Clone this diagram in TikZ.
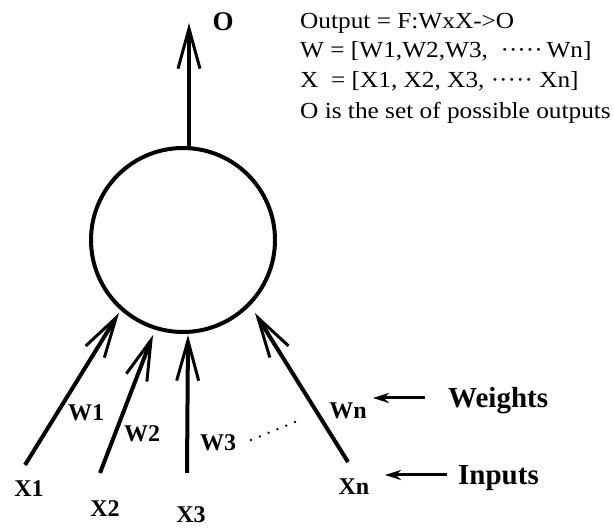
\documentclass[tikz,border=0pt]{standalone}
\usepackage{fontspec}
\setmainfont{Liberation Serif}
\newfontfamily\txtfont[FakeStretch=1.1]{Liberation Serif}
\usetikzlibrary{arrows.meta}
\begin{document}
\begin{tikzpicture}[x=1pt,y=-1pt,
  shaft/.style={line width=4pt},
  barb/.style={-{Straight Barb[length=40pt,width=22pt,line width=3pt]}},
  lbl/.style={font=\fontsize{24}{28}\selectfont\bfseries, inner sep=0pt},
  big/.style={font=\fontsize{29}{34}\selectfont\bfseries, inner sep=0pt, anchor=base west},
  txt/.style={font=\txtfont\fontsize{23}{28}\selectfont, inner sep=0pt, anchor=base west},
  pointer/.style={line width=3pt, -{Stealth[length=16pt,width=10pt]}}]
\useasboundingbox (0,0) rectangle (614,529);
% neuron
\node[circle, draw, line width=4pt, minimum size=184pt, inner sep=0pt] (neuron) at (183,240) {};
% output arrow
\coordinate (otop) at (189,148);
\coordinate (otip) at (189,23);
\draw[shaft, barb] (otop) -- (otip);
\node[font=\fontsize{27}{32}\selectfont\bfseries, inner sep=0pt] (O) at (223,22) {O};
% inputs
\coordinate (x1t) at (25,465);  \coordinate (x1h) at (119,313);
\coordinate (x2t) at (100,473); \coordinate (x2h) at (153,335);
\coordinate (x3t) at (187,473); \coordinate (x3h) at (188,335);
\coordinate (xnt) at (348,462); \coordinate (xnh) at (255,313);
\draw[shaft, barb] (x1t) -- (x1h);
\draw[shaft, barb] (x2t) -- (x2h);
\draw[shaft, barb] (x3t) -- (x3h);
\draw[shaft, barb] (xnt) -- (xnh);
\node[lbl] (X1) at (29,489) {X1};
\node[lbl] (X2) at (105,509) {X2};
\node[lbl] (X3) at (191,515) {X3};
\node[lbl] (Xn) at (354,487) {Xn};
\node[lbl] (W1) at (86,413) {W1};
\node[lbl] (W2) at (142,434) {W2};
\node[lbl] (W3) at (218,443) {W3};
\node[lbl] (Wn) at (348,411) {Wn};
\foreach \i in {0,...,5} \fill ({251+8.8*\i},{440-3.6*\i}) circle[radius=1.3pt];
% pointers
\coordinate (wt) at (425,398); \coordinate (wh) at (373,398);
\coordinate (it) at (447,475); \coordinate (ih) at (385,475);
\draw[pointer] (wt) -- (wh);
\draw[pointer] (it) -- (ih);
\node[big] (weights) at (448,408) {Weights};
\node[big] (inputs) at (458,485) {Inputs};
% definitions
\node[txt] (l1) at (300,29) {Output = F:WxX->O};
\node[txt] (l2) at (300,58) {W = [W1,W2,W3, \ ·····\,Wn]};
\node[txt] (l3) at (300,88) {X \ = [X1, X2, X3, ·····\ Xn]};
\node[txt] (l4) at (300,119) {O is the set of possible outputs};
\end{tikzpicture}
\end{document}
